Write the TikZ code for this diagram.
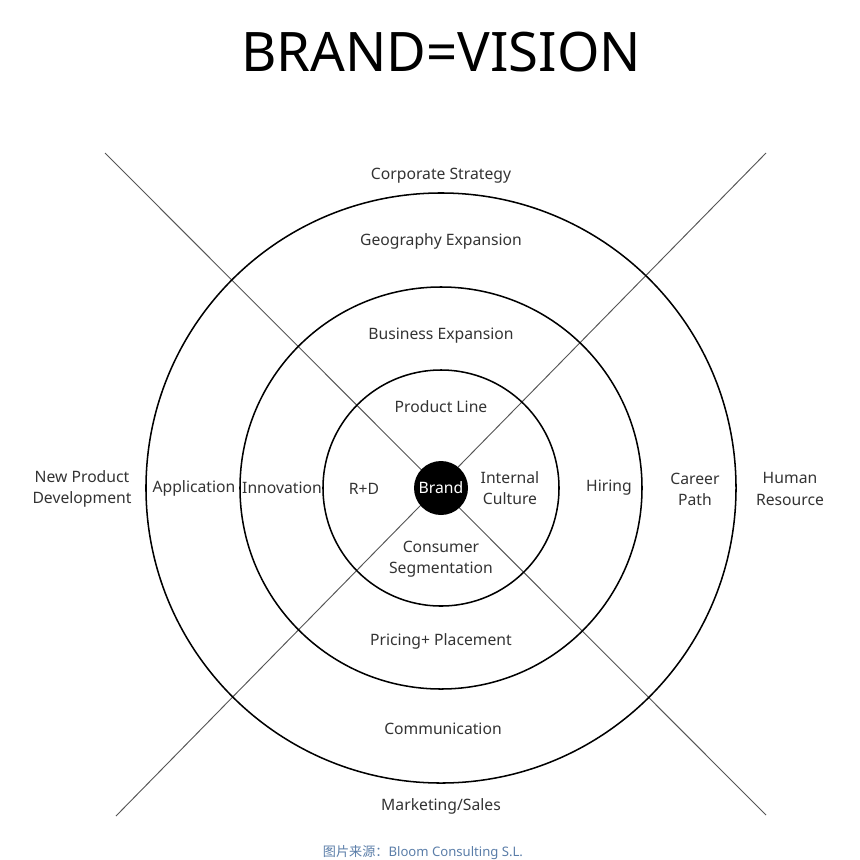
\documentclass[tikz,border=0pt]{standalone}
\usepackage{fontspec}
\setmainfont{Noto Sans}
\newfontfamily\cjk{Noto Sans CJK SC}
\usepackage{xcolor}
\usepackage{tikz}
\usetikzlibrary{positioning}
\definecolor{labelcolor}{HTML}{333333}
\definecolor{axiscolor}{HTML}{555555}
\definecolor{sourcecolor}{HTML}{5A7DA8}

\begin{document}
\begin{tikzpicture}[
    x=0.03cm, y=-0.03cm,
    ring/.style={draw=black, line width=1.3pt},
    axis/.style={draw=axiscolor, line width=0.8pt},
    label/.style={font=\fontsize{13.4}{18}\selectfont, text=labelcolor, align=center, inner sep=0pt},
    title/.style={font=\fontsize{46.5}{50}\selectfont, text=black, inner sep=0pt},
    source/.style={font=\fontsize{11.2}{13}\selectfont, text=sourcecolor, inner sep=0pt}
]
\useasboundingbox (0,0) rectangle (860,860);

% Title
\node[title] (title) at (441,52) {BRAND=VISION};

% Axes
\coordinate (tl) at (105,153);
\coordinate (br) at (766,815);
\coordinate (tr) at (766,153);
\coordinate (bl) at (116,816);
\draw[axis] (tl) -- (br);
\draw[axis] (tr) -- (bl);

% Rings
\coordinate (c) at (441,488);
\draw[ring] (c) circle[radius=8.85cm];
\draw[ring] (c) circle[radius=6.03cm];
\draw[ring] (c) circle[radius=3.54cm];

% Centre
\node[circle, fill=black, minimum size=1.62cm, inner sep=0pt, text=white,
      font=\fontsize{13.4}{15}\selectfont] (brand) at (c) {Brand};

% Top
\node[label] (corp) at (441,176) {Corporate Strategy};
\node[label] (geo) at (441,241) {Geography Expansion};
\node[label] (biz) at (441,336) {Business Expansion};
\node[label] (prod) at (441,407) {Product Line};

% Left
\node[label] (npd) at (82,489) {New Product\\Development};
\node[label] (app) at (194,488) {Application};
\node[label] (innov) at (282,488) {Innovation};
\node[label] (rd) at (364,489) {R+D};

% Right
\node[label] (culture) at (510,488) {Internal\\Culture};
\node[label] (hiring) at (609,488) {Hiring};
\node[label] (career) at (695,489) {Career\\Path};
\node[label] (hr) at (790,489) {Human\\Resource};

% Bottom
\node[label] (seg) at (441,559) {Consumer\\Segmentation};
\node[label] (pricing) at (441,641) {Pricing+ Placement};
\node[label] (comm) at (443,729) {Communication};
\node[label] (sales) at (441,806) {Marketing/Sales};

% Source
\node[source] (src) at (423,853) {{\cjk 图片来源：}Bloom Consulting S.L.};
\end{tikzpicture}
\end{document}
